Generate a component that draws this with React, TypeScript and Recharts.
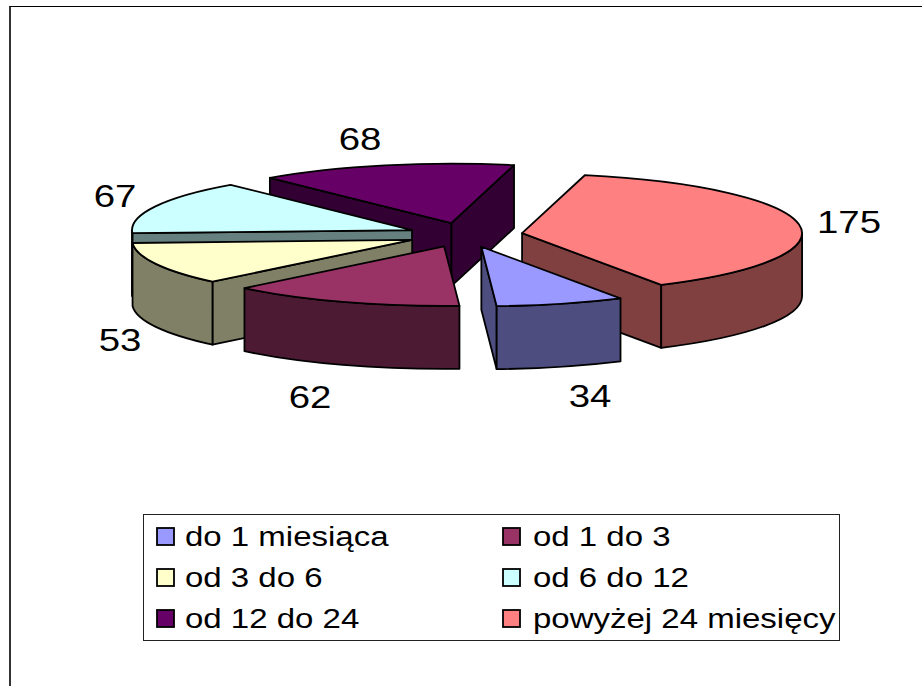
import { Legend, Pie, PieChart } from "recharts"

const categories = ["do 1 miesiąca", "od 1 do 3", "od 3 do 6", "od 6 do 12", "od 12 do 24", "powyżej 24 miesięcy"]
const values = [34, 62, 53, 67, 68, 175]
const colors = ["#9999FF", "#993366", "#FFFFCC", "#CCFFFF", "#660066", "#FF8080"]
const sideColors = ["#4D4D80", "#4D1A33", "#808066", "#668080", "#330033", "#804040"]

// slices are painted back to front, so the pie runs counter-clockwise from the big one
const paintOrder = [5, 4, 3, 2, 1, 0]
const pieData = paintOrder.map((i) => ({ name: categories[i], value: values[i], fill: colors[i], side: sideColors[i] }))

// centre of each value label on the page
const labelCenters: Record<string, [number, number]> = {
  "do 1 miesiąca": [590, 395],
  "od 1 do 3": [310, 396],
  "od 3 do 6": [120, 339],
  "od 6 do 12": [115, 195],
  "od 12 do 24": [360, 138],
  "powyżej 24 miesięcy": [849, 221],
}

const TILT = 59.5 / 280
const EXPLODE = 57.7
const DEPTH = 63
const RAD = Math.PI / 180
const FONT = "'Liberation Sans', Arial, sans-serif"

function SliceShape(p: any) {
  const rx = p.outerRadius
  const ry = rx * TILT
  const mid = ((p.startAngle + p.endAngle) / 2) * RAD
  const ax = p.cx + EXPLODE * Math.cos(mid)
  const ay = p.cy - EXPLODE * TILT * Math.sin(mid)
  const pt = (deg: number) => [ax + rx * Math.cos(deg * RAD), ay - ry * Math.sin(deg * RAD)]
  const outline = { stroke: "#000", strokeWidth: 1.8, strokeLinejoin: "round" as const }

  const cutFace = (deg: number) => {
    const [x, y] = pt(deg)
    return `M${ax},${ay}L${x},${y}L${x},${y + DEPTH}L${ax},${ay + DEPTH}Z`
  }
  const faces: string[] = []
  if (Math.cos(p.startAngle * RAD) > 0) faces.push(cutFace(p.startAngle))
  if (Math.cos(p.endAngle * RAD) < 0) faces.push(cutFace(p.endAngle))

  // outer wall: only the part of the rim on the near half shows
  const ranges: [number, number][] = [
    [Math.max(p.startAngle, -180), Math.min(p.endAngle, 0)],
    [Math.max(p.startAngle, 180), Math.min(p.endAngle, 360)],
  ]
  ranges.forEach(([a, b]) => {
    if (b <= a) return
    const [x1, y1] = pt(a)
    const [x2, y2] = pt(b)
    faces.push(
      `M${x1},${y1}A${rx},${ry} 0 0 0 ${x2},${y2}L${x2},${y2 + DEPTH}A${rx},${ry} 0 0 1 ${x1},${y1 + DEPTH}Z`,
    )
  })

  const [sx, sy] = pt(p.startAngle)
  const [ex, ey] = pt(p.endAngle)
  const large = p.endAngle - p.startAngle > 180 ? 1 : 0
  return (
    <g>
      {faces.map((d, i) => (
        <path key={i} d={d} fill={p.side} {...outline} />
      ))}
      <path d={`M${ax},${ay}L${sx},${sy}A${rx},${ry} 0 ${large} 0 ${ex},${ey}Z`} fill={p.fill} {...outline} />
    </g>
  )
}

function valueLabel(p: any) {
  const [x, y] = labelCenters[p.name]
  return (
    <text
      key={p.name}
      transform={`translate(${x},${y + 11.5}) scale(1.2,1)`}
      textAnchor="middle"
      fontFamily={FONT}
      fontSize={32}
      fill="#000"
    >
      {p.value}
    </text>
  )
}

function LegendBox() {
  return (
    <svg width={698} height={128} style={{ display: "block" }}>
      <rect x={0.5} y={0.5} width={696} height={126} fill="#fff" stroke="#222" strokeWidth={1} />
      {categories.map((name, i) => {
        const col = i % 2
        const row = Math.floor(i / 2)
        const y = 22 + row * 41
        return (
          <g key={name}>
            <rect x={14 + col * 346} y={y - 8} width={17} height={17} fill={colors[i]} stroke="#000" strokeWidth={1.8} />
            <text
              transform={`translate(${42 + col * 348},${y + 10}) scale(1.2,1)`}
              fontFamily={FONT}
              fontSize={27.5}
              fill="#000"
            >
              {name}
            </text>
          </g>
        )
      })}
    </svg>
  )
}

export default function App() {
  return (
    <div style={{ position: "absolute", left: 0, top: 0, width: 922, height: 686, background: "#fff", overflow: "hidden" }}>
      <div style={{ position: "absolute", left: 9, top: 6, width: 913, height: 680, borderLeft: "2px solid #333", borderTop: "1.5px solid #000" }} />
      <div style={{ position: "absolute", left: 0, top: 0 }}>
        <PieChart width={922} height={686} margin={{ top: 0, right: 0, bottom: 0, left: 0 }}>
          <Pie
            data={pieData}
            dataKey="value"
            nameKey="name"
            cx={465}
            cy={235}
            outerRadius={280}
            startAngle={-60.2}
            endAngle={299.8}
            stroke="none"
            shape={SliceShape}
            label={valueLabel}
            labelLine={false}
            isAnimationActive={false}
          />
          <Legend
            content={<LegendBox />}
            wrapperStyle={{ position: "absolute", left: 143, top: 514, width: 698, height: 128 }}
          />
        </PieChart>
      </div>
    </div>
  )
}
